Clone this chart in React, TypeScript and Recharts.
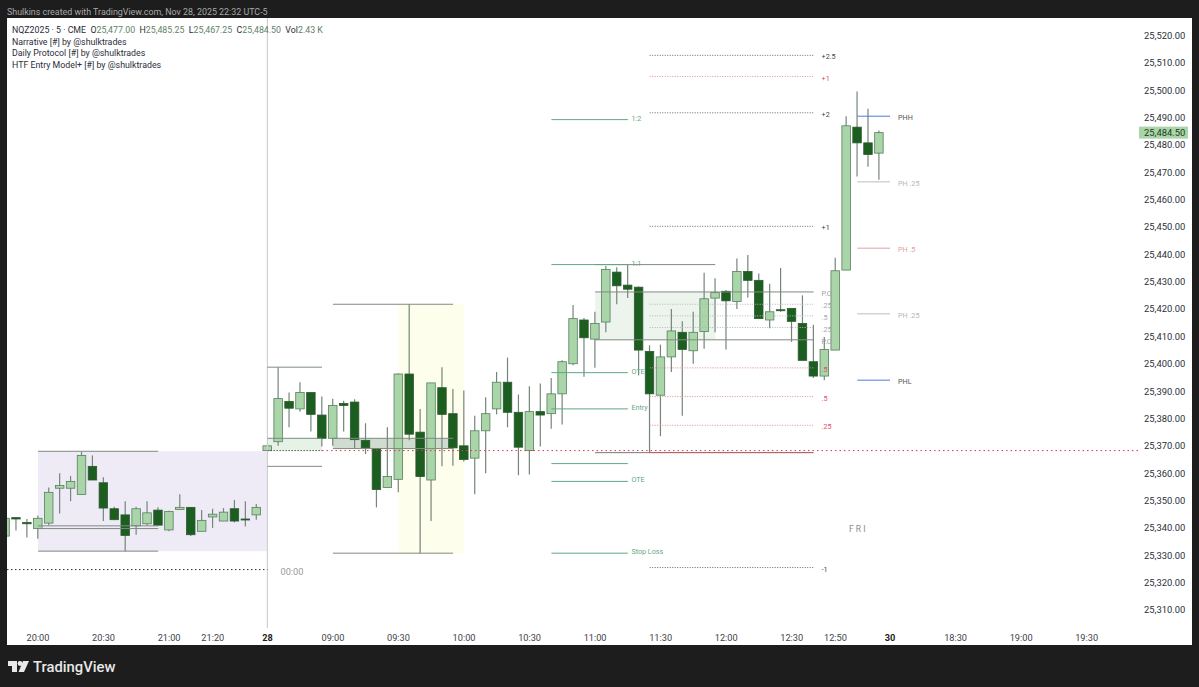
import { ComposedChart, Bar, XAxis, YAxis, ReferenceArea, ReferenceLine, ReferenceDot } from "recharts";

// bar numbers: 0 is the 20:00 candle, one step is 5 minutes
const firstBar = -3;
const opens = [
  25337, 25343.75, 25342, 25339.75, 25341.75, 25354.5, 25354.5, 25352.25, 25362.5, 25356.5,
  25347, 25344.75, 25340.75, 25341.5, 25346.5, 25339.25, 25346.75, 25347.5, 25338.75, 25344,
  25342.5, 25347, 25343.25, 25344.75, 25368.25, 25371.5, 25386.25, 25383.5, 25389.5, 25381.25,
  25372.75, 25385.5, 25386, 25372, 25369, 25354.75, 25357.75, 25396.25, 25375, 25357.5,
  25391.25, 25381.75, 25370, 25365.5, 25375.5, 25383.5, 25393.25, 25382.25, 25368.25, 25382.5,
  25381.75, 25389, 25400, 25416, 25409, 25415.25, 25433.5, 25428.75, 25428, 25404.5,
  25388.5, 25402.5, 25411.5, 25404.75, 25411.75, 25424, 25426.5, 25422.75, 25433.75, 25430.5,
  25416, 25419.75, 25420.25, 25414.75, 25400.75, 25395.5, 25405, 25434.25, 25486.5, 25480.75,
  25477,
];
const highs = [
  25344, 25344, 25343.25, 25344.5, 25354.75, 25360, 25359, 25367.75, 25366.5, 25358.5,
  25347.75, 25349.75, 25347.75, 25349.75, 25347.5, 25346.25, 25352.25, 25347.5, 25346.5, 25347,
  25347.25, 25350.25, 25349.75, 25348.75, 25370, 25398.75, 25389.5, 25393.25, 25389.5, 25388,
  25387.25, 25386.5, 25387, 25378.25, 25369, 25376.75, 25396.5, 25421.75, 25383.5, 25393,
  25398.75, 25390.75, 25390.25, 25381, 25387.75, 25397, 25402.25, 25388.75, 25391.75, 25392.75,
  25394.75, 25401.25, 25421.5, 25416.75, 25419, 25435.75, 25435.25, 25436.25, 25428.25, 25406.75,
  25407, 25420, 25415.5, 25419, 25433.25, 25431.25, 25427, 25438.5, 25439.75, 25433,
  25429.25, 25435, 25420.25, 25425, 25414.25, 25409.75, 25438.75, 25490.5, 25499.5, 25493.25,
  25485.25,
];
const lows = [
  25336.75, 25339, 25336.5, 25336, 25341, 25345.25, 25349.75, 25352.25, 25357.5, 25342.5,
  25342.75, 25331.5, 25337.5, 25341, 25340.75, 25338.75, 25346.75, 25337, 25338.75, 25340,
  25342.5, 25342, 25340.5, 25343, 25368.25, 25370, 25376.75, 25382.5, 25375.25, 25369.75,
  25370, 25375.25, 25369, 25367, 25347.5, 25354.75, 25353, 25372, 25330.75, 25342.5,
  25362.5, 25362.75, 25364.25, 25352.25, 25360, 25381.5, 25376.75, 25359.25, 25359.5, 25369.75,
  25376.25, 25377.75, 25399.5, 25395.25, 25398.5, 25411.5, 25421.75, 25424, 25395.75, 25367.5,
  25373.5, 25397, 25381, 25400, 25405.5, 25411.5, 25405.25, 25420, 25424.25, 25416.5,
  25413, 25419, 25408, 25401.25, 25394.75, 25394, 25405, 25434.25, 25468.5, 25472,
  25467.25,
];
const closes = [
  25343.5, 25343.25, 25341.5, 25343.5, 25353, 25355.5, 25357, 25366.5, 25357.5, 25347.25,
  25343, 25337.25, 25347, 25345.5, 25341, 25346, 25347.5, 25337.5, 25342.75, 25345,
  25345.75, 25342.5, 25343, 25347.5, 25370, 25387.25, 25383.75, 25389.5, 25381.5, 25372.75,
  25384.75, 25384.75, 25372.25, 25369.25, 25354, 25358.75, 25396.25, 25374.25, 25358.75, 25393,
  25381.5, 25369.25, 25365, 25375.5, 25381.75, 25393.25, 25382.25, 25369.5, 25382.5, 25381.25,
  25389, 25400.75, 25416.5, 25409.5, 25414.75, 25434.5, 25428.5, 25427.25, 25405, 25389,
  25402.5, 25412, 25405.25, 25411.5, 25423.75, 25426, 25423, 25433.75, 25430.5, 25416.5,
  25419, 25419.5, 25415.5, 25401.25, 25395.5, 25405.25, 25434, 25487, 25480.75, 25476.5,
  25484.5,
];

const priceTicks = [
  25310, 25320, 25330, 25340, 25350, 25360, 25370, 25380, 25390, 25400, 25410, 25420, 25430, 25440, 25450,
  25460, 25470, 25480, 25490, 25500, 25510, 25520,
];
const lastPrice = 25484.5;
const timeTicks = [0, 6, 12, 16, 21, 27, 33, 39, 45, 51, 57, 63, 69, 73, 78, 84, 90, 96];
const timeLabels = [
  "20:00", "20:30", "21:00", "21:20", "28", "09:00", "09:30", "10:00", "10:30",
  "11:00", "11:30", "12:00", "12:30", "12:50", "30", "18:30", "19:00", "19:30",
];

type Level = { from: number; to: number; price: number; label?: string };

const entryLevels: Level[] = [
  { from: 47, to: 54, price: 25489.25, label: "1:2" },
  { from: 47, to: 54, price: 25436.25, label: "1:1" },
  { from: 47, to: 54, price: 25396.75, label: "OTE" },
  { from: 47, to: 54, price: 25383.5, label: "Entry" },
  { from: 47, to: 54, price: 25363.5 },
  { from: 47, to: 54, price: 25357, label: "OTE" },
  { from: 47, to: 54, price: 25330.75, label: "Stop Loss" },
];
const darkDots: Level[] = [
  { from: 56, to: 71, price: 25512.75, label: "+2.5" },
  { from: 56, to: 71, price: 25491.75, label: "+2" },
  { from: 56, to: 71, price: 25450.25, label: "+1" },
  { from: 56, to: 71, price: 25325.5, label: "-1" },
];
const redDots: Level[] = [
  { from: 56, to: 71, price: 25505, label: "+1" },
  { from: 56, to: 71, price: 25398.5, label: ".5" },
  { from: 56, to: 71, price: 25388, label: ".5" },
  { from: 56, to: 71, price: 25377.5, label: ".25" },
];
const greyDots: Level[] = [
  { from: 56, to: 71, price: 25421.75, label: ".25" },
  { from: 56, to: 71, price: 25417.5, label: ".5" },
  { from: 56, to: 71, price: 25413.25, label: ".25" },
];
const protocolLines: Level[] = [
  { from: 51, to: 71, price: 25426.25, label: "P.O" },
  { from: 51, to: 71, price: 25408.75, label: "P.O" },
];
const rangeLines: Level[] = [
  { from: 0, to: 11, price: 25368 },
  { from: 0, to: 11, price: 25340.75 },
  { from: 0, to: 11, price: 25339.75 },
  { from: 0, to: 11, price: 25331.5 },
  { from: 21, to: 26, price: 25398.75 },
  { from: 21, to: 26, price: 25372.75 },
  { from: 21, to: 26, price: 25362.5 },
  { from: 27, to: 38, price: 25421.75 },
  { from: 27, to: 38, price: 25372.75 },
  { from: 27, to: 38, price: 25369 },
  { from: 27, to: 38, price: 25330.75 },
  { from: 51, to: 62, price: 25436.25 },
];
const blueLevels: Level[] = [
  { from: 75, to: 78, price: 25490.5, label: "PHH" },
  { from: 75, to: 78, price: 25394, label: "PHL" },
];
const greyLevels: Level[] = [
  { from: 75, to: 78, price: 25466.5, label: "PH .25" },
  { from: 75, to: 78, price: 25418.25, label: "PH .25" },
];
const pinkLevels: Level[] = [{ from: 75, to: 78, price: 25442.25, label: "PH .5" }];

const rows = opens.map((open, k) => ({
  i: k + firstBar,
  open,
  high: highs[k],
  low: lows[k],
  close: closes[k],
  range: [lows[k], highs[k]],
}));

const UP = "#a9d5a9";
const DOWN = "#1b5e20";
const FONT = "Roboto, sans-serif";

function Candle(props: any) {
  const { x, y, width, height, payload } = props;
  const perPoint = height / (payload.high - payload.low);
  const yOf = (v: number) => y + (payload.high - v) * perPoint;
  const up = payload.close >= payload.open;
  const top = yOf(Math.max(payload.open, payload.close));
  const bottom = yOf(Math.min(payload.open, payload.close));
  const mid = x + width / 2;
  return (
    <g>
      <line x1={mid} x2={mid} y1={y} y2={y + height} stroke="#75857a" strokeWidth={1.2} />
      <rect
        x={x}
        y={top}
        width={width}
        height={Math.max(bottom - top, 1)}
        fill={up ? UP : DOWN}
        stroke={up ? "#567f5e" : "#2c5a30"}
        strokeWidth={0.8}
      />
    </g>
  );
}

function PriceTick(props: any) {
  const { x, y, payload } = props;
  const text = payload.value.toLocaleString("en-US", { minimumFractionDigits: 2 });
  const last = payload.value === lastPrice;
  return (
    <g>
      {last && <rect x={x - 6} y={y - 6} width={49} height={12} fill="#a9d5a9" />}
      <text x={x - 1} y={y + 3.4} fontSize={9.4} fontFamily={FONT} fill={last ? "#1d3a20" : "#2a2e39"}>
        {text}
      </text>
    </g>
  );
}

function TimeTick(props: any) {
  const { x, y, payload } = props;
  const label = timeLabels[timeTicks.indexOf(payload.value)];
  const day = label.length === 2;
  return (
    <text
      x={x}
      y={y + 5}
      textAnchor="middle"
      fontSize={9.2}
      fontFamily={FONT}
      fontWeight={day ? 700 : 400}
      fill={day ? "#1c1c1c" : "#3c3f48"}
    >
      {label}
    </text>
  );
}

function levelLines(levels: Level[], stroke: string, labelFill: string, dash?: string, gap = 8, dy = 1.5) {
  return levels.map((l, n) => (
    <ReferenceLine
      key={stroke + n + l.price}
      segment={[
        { x: l.from, y: l.price },
        { x: l.to, y: l.price },
      ]}
      stroke={stroke}
      strokeDasharray={dash}
      label={
        l.label
          ? { value: l.label, position: "right", offset: gap, dy, fill: labelFill, fontSize: 7.2, fontFamily: FONT }
          : undefined
      }
    />
  ));
}

const legendName = { color: "#2a2e39" };
const legendValue = { color: "#5f7f66" };

export default function App() {
  return (
    <div style={{ position: "absolute", left: 0, top: 0, width: 1199, height: 687, background: "#1d1d1d", overflow: "hidden" }}>
      <div style={{ position: "absolute", left: 7, top: 7, fontFamily: FONT, fontSize: 8.9, color: "#a8a8a8", whiteSpace: "nowrap" }}>
        Shulkins created with TradingView.com, Nov 28, 2025 22:32 UTC-5
      </div>
      <div style={{ position: "absolute", left: 7, top: 18, width: 1185, height: 627, background: "#fff" }} />
      <ComposedChart
        width={1199}
        height={687}
        data={rows}
        margin={{ top: 18, right: 7, bottom: 42, left: 7 }}
        style={{ position: "absolute", left: 0, top: 0 }}
      >
        <XAxis
          dataKey="i"
          type="number"
          domain={[-2.84, 100.7]}
          allowDataOverflow
          ticks={timeTicks}
          tick={<TimeTick />}
          axisLine={false}
          tickLine={false}
          height={17}
          interval={0}
        />
        <YAxis
          type="number"
          orientation="right"
          domain={[25303.4, 25526.4]}
          allowDataOverflow
          ticks={[...priceTicks, lastPrice]}
          tick={<PriceTick />}
          axisLine={false}
          tickLine={false}
          width={54}
          interval={0}
          tickMargin={1}
        />

        <ReferenceArea x1={0} x2={21} y1={25331.5} y2={25368} fill="#eeebf7" fillOpacity={1} stroke="none" />
        <ReferenceArea x1={33} x2={39} y1={25330.75} y2={25421.75} fill="#fefeec" fillOpacity={1} stroke="none" />
        <ReferenceArea x1={21} x2={26} y1={25368.25} y2={25372.75} fill="#e7f2e7" fillOpacity={1} stroke="none" />
        <ReferenceArea x1={27} x2={38} y1={25369} y2={25372.75} fill="#cfdccf" fillOpacity={1} stroke="none" />
        <ReferenceArea x1={51} x2={62} y1={25408.75} y2={25426.25} fill="#edf4ed" fillOpacity={1} stroke="none" />

        <ReferenceLine x={21} stroke="#cfd0d6" strokeWidth={1.2} />
        <ReferenceLine
          segment={[
            { x: -2.84, y: 25324.75 },
            { x: 21, y: 25324.75 },
          ]}
          stroke="#333"
          strokeDasharray="1.5 2.5"
        />
        <ReferenceLine
          segment={[
            { x: 21, y: 25368.25 },
            { x: 26, y: 25368.25 },
          ]}
          stroke="#555"
          strokeDasharray="1.5 1.5"
        />
        <ReferenceLine
          segment={[
            { x: 26, y: 25368.25 },
            { x: 100.7, y: 25368.25 },
          ]}
          stroke="#d9344f"
          strokeDasharray="1.5 3"
        />
        <ReferenceLine
          segment={[
            { x: 51, y: 25367.5 },
            { x: 56, y: 25367.5 },
          ]}
          stroke="#777"
        />
        <ReferenceLine
          segment={[
            { x: 56, y: 25367.5 },
            { x: 71, y: 25367.5 },
          ]}
          stroke="#a34a4a"
        />

        {levelLines(rangeLines, "#7f8a82", "#777")}
        {levelLines(protocolLines, "#7f8a82", "#a0a0a0")}
        {levelLines(entryLevels, "#5fa886", "#5fa886", undefined, 3.5, -1.5)}
        {levelLines(darkDots, "#666", "#444", "1 1.5")}
        {levelLines(redDots, "#e58a96", "#d9505f", "1 1.5")}
        {levelLines(greyDots, "#b5b5b5", "#a8a8a8", "1 1.5")}
        {levelLines(blueLevels, "#4f78e0", "#555")}
        {levelLines(greyLevels, "#bdbdbd", "#b5b5b5")}
        {levelLines(pinkLevels, "#e0a0a6", "#e0a0a6")}

        <ReferenceDot
          x={23.25}
          y={25324}
          r={0}
          stroke="none"
          label={{ value: "00:00", position: "center", fill: "#999", fontSize: 9.2, fontFamily: FONT }}
        />
        <ReferenceDot
          x={75}
          y={25339.75}
          r={0}
          stroke="none"
          label={{ value: "F R I", position: "center", fill: "#8a8a8a", fontSize: 8.5, fontFamily: FONT }}
        />

        <Bar dataKey="range" barSize={8.5} shape={<Candle />} isAnimationActive={false} />
      </ComposedChart>

      <div style={{ position: "absolute", left: 12, top: 25, fontFamily: FONT, fontSize: 8.8, lineHeight: "11.6px", whiteSpace: "nowrap", ...legendName }}>
        <div>
          NQZ2025 · 5 · CME&nbsp; O<span style={legendValue}>25,477.00</span>&nbsp; H<span style={legendValue}>25,485.25</span>
          &nbsp; L<span style={legendValue}>25,467.25</span>&nbsp; C<span style={legendValue}>25,484.50</span>&nbsp; Vol
          <span style={legendValue}>2.43 K</span>
        </div>
        <div>Narrative [#] by @shulktrades</div>
        <div>Daily Protocol [#] by @shulktrades</div>
        <div>HTF Entry Model+ [#] by @shulktrades</div>
      </div>

      <svg width={24} height={14} style={{ position: "absolute", left: 7, top: 660 }}>
        <path d="M1 1 H10 V12 H5 V6 H1 Z" fill="#e8e8e8" />
        <circle cx={13} cy={3.5} r={2.4} fill="#e8e8e8" />
        <path d="M16 1 H22 L17 12 H11.5 Z" fill="#e8e8e8" />
      </svg>
      <div style={{ position: "absolute", left: 33, top: 658, fontFamily: FONT, fontSize: 14.8, fontWeight: 500, color: "#e8e8e8", whiteSpace: "nowrap" }}>
        TradingView
      </div>
    </div>
  );
}
